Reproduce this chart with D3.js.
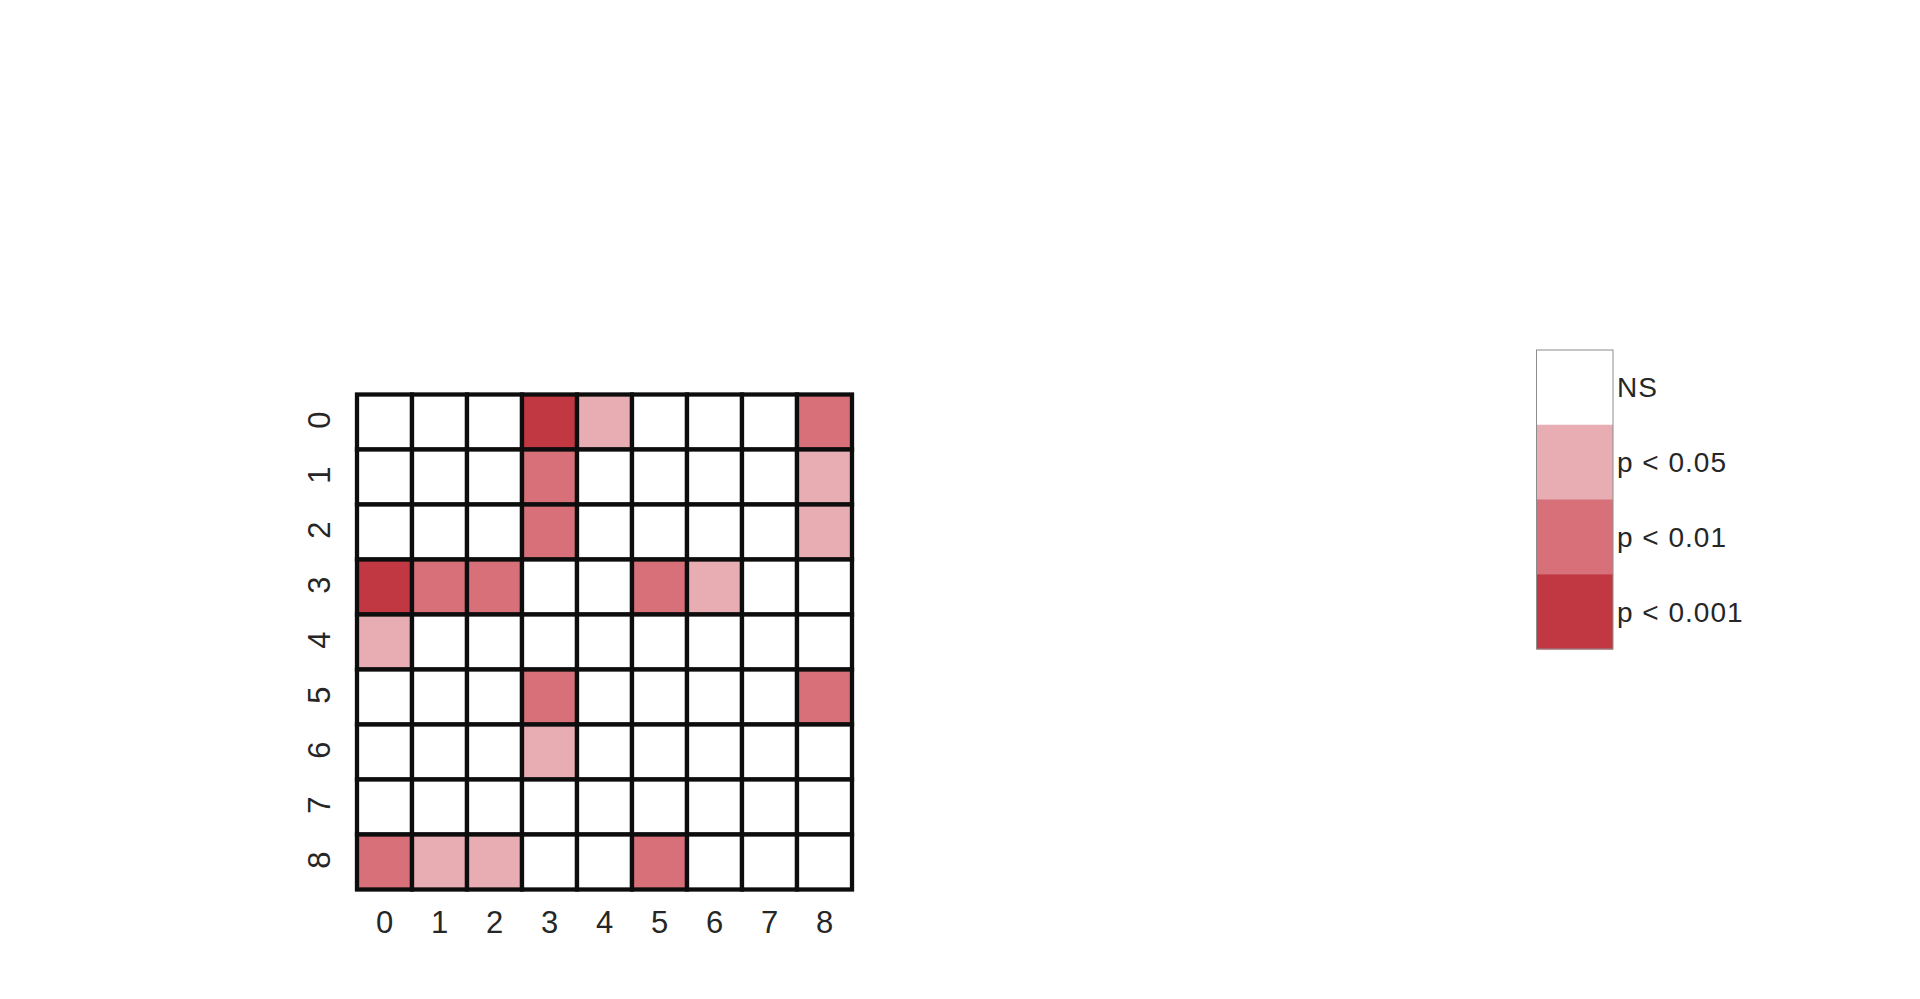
<!DOCTYPE html>
<html>
<head>
<meta charset="utf-8">
<script src="https://cdn.jsdelivr.net/npm/d3@7"></script>
<style>
html,body{margin:0;padding:0;background:#fff;}
svg{display:block;}
text{font-family:"Liberation Sans",Arial,sans-serif;fill:#262626;}
</style>
</head>
<body>
<script>
// Data
const rowLabels = ["0","1","2","3","4","5","6","7","8"];
const colLabels = ["0","1","2","3","4","5","6","7","8"];
// significance level: 0 = NS, 1 = p<0.05, 2 = p<0.01, 3 = p<0.001
const sigMatrix = [
  [0,0,0,3,1,0,0,0,2],
  [0,0,0,2,0,0,0,0,1],
  [0,0,0,2,0,0,0,0,1],
  [3,2,2,0,0,2,1,0,0],
  [1,0,0,0,0,0,0,0,0],
  [0,0,0,2,0,0,0,0,2],
  [0,0,0,1,0,0,0,0,0],
  [0,0,0,0,0,0,0,0,0],
  [2,1,1,0,0,2,0,0,0]
];
const legendLabels = ["NS","p < 0.05","p < 0.01","p < 0.001"];
const legendColors = ["#ffffff","#e8adb2","#d87079","#c13843"];

const W = 1920, H = 999;
const svg = d3.select("body").append("svg").attr("width",W).attr("height",H);

const gx0 = 357, gx1 = 852, gy0 = 394.5, gy1 = 889.5;
const x = d3.scaleBand().domain(colLabels).range([gx0,gx1]);
const y = d3.scaleBand().domain(rowLabels).range([gy0,gy1]);
const color = d3.scaleOrdinal().domain([0,1,2,3]).range(legendColors);

const cells = [];
sigMatrix.forEach((row,i)=>row.forEach((v,j)=>cells.push({r:rowLabels[i],c:colLabels[j],v})));

svg.append("g").selectAll("rect").data(cells).join("rect")
  .attr("x",d=>x(d.c)).attr("y",d=>y(d.r))
  .attr("width",x.bandwidth()).attr("height",y.bandwidth())
  .attr("fill",d=>color(d.v))
  .attr("stroke","#0d0d0d").attr("stroke-width",4.3);

// x axis labels
const xAxis = d3.axisBottom(x).tickSize(0).tickPadding(0);
const gxA = svg.append("g").attr("transform",`translate(0,${gy1})`).call(xAxis);
gxA.select(".domain").remove();
gxA.selectAll("text").attr("y",0).attr("dy",null)
  .attr("transform","translate(0,43.5)")
  .style("font-size","31px").style("font-family","'Liberation Sans',Arial,sans-serif").attr("fill","#262626");

// y axis labels, rotated
const yAxis = d3.axisLeft(y).tickSize(0).tickPadding(0);
const gyA = svg.append("g").attr("transform",`translate(${gx0},0)`).call(yAxis);
gyA.select(".domain").remove();
gyA.selectAll(".tick text").attr("x",0).attr("dy",null)
  .attr("text-anchor","middle")
  .attr("transform","translate(-27.5,-2) rotate(-90)")
  .style("font-size","31px").style("font-family","'Liberation Sans',Arial,sans-serif").attr("fill","#262626");

// legend
const lx = 1536.5, ly0 = 350, ly1 = 649;
const ly = d3.scaleBand().domain(legendLabels).range([ly0,ly1]);
const lg = svg.append("g");
lg.selectAll("rect.seg").data(legendLabels).join("rect")
  .attr("class","seg")
  .attr("x",lx).attr("y",d=>ly(d)).attr("width",76.5).attr("height",ly.bandwidth()+0.5)
  .attr("fill",(d,i)=>legendColors[i]);
lg.append("rect").attr("x",lx).attr("y",ly0).attr("width",76.5).attr("height",ly1-ly0)
  .attr("fill","none").attr("stroke","#8c8c8c").attr("stroke-width",1);
lg.selectAll("text").data(legendLabels).join("text")
  .attr("x",1617).attr("y",d=>ly(d)+ly.bandwidth()/2+10)
  .style("font-size","28px").style("letter-spacing","1px").text(d=>d);
</script>
</body>
</html>
